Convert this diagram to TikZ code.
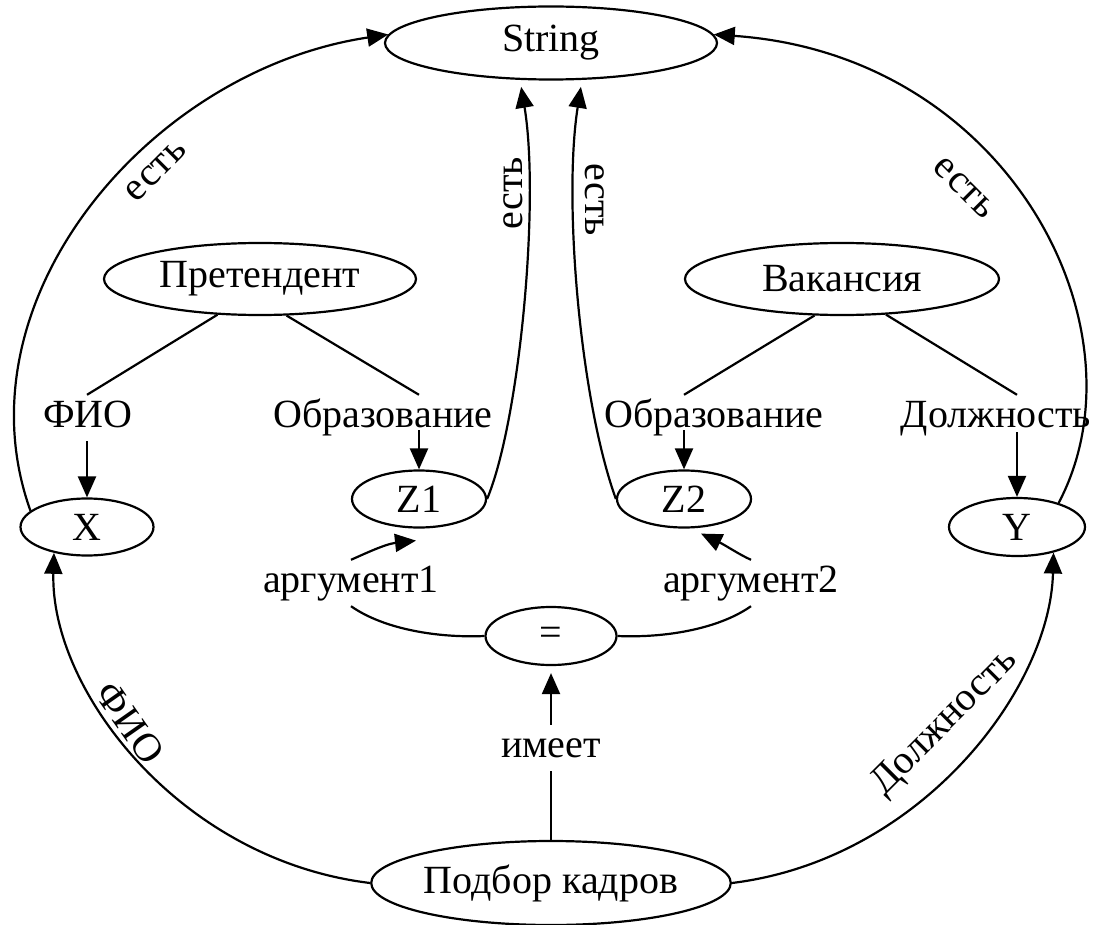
\documentclass[tikz,border=0pt]{standalone}
\usepackage{fontspec}
\setmainfont{Liberation Serif}
\usepackage{tikz}
\usetikzlibrary{arrows.meta,shapes}
\tikzstyle{concept}=[ellipse,draw,line width=2.2pt,inner sep=0pt]
\tikzstyle{role}=[anchor=base,inner sep=5pt,text height=27pt,text depth=9pt]
\tikzstyle{tag}=[inner sep=2pt]
\tikzstyle{plain}=[line width=2.2pt]
\tikzstyle{rel}=[line width=2.2pt,-{Triangle[length=21pt,width=18pt]}]

\begin{document}
\begin{tikzpicture}[x=1pt,y=-1pt,font=\fontsize{40}{48}\selectfont]
        \useasboundingbox (0,0) rectangle (1097,925);

        % concepts
        \node at (551,43)  [concept,minimum width=332pt,minimum height=73pt] (str)  {String};
        \node at (260,279) [concept,minimum width=312pt,minimum height=72pt] (pret) {Претендент};
        \node at (842,279) [concept,minimum width=314pt,minimum height=72pt] (vak)  {Вакансия};
        \node at (87,527)  [concept,minimum width=133pt,minimum height=57pt] (x)    {X};
        \node at (419,499) [concept,minimum width=134pt,minimum height=57pt] (z1)   {Z1};
        \node at (684,499) [concept,minimum width=134pt,minimum height=57pt] (z2)   {Z2};
        \node at (1017,527) [concept,minimum width=136pt,minimum height=58pt] (y)   {Y};
        \node at (551,636) [concept,minimum width=131pt,minimum height=58pt] (eq)   {=};
        \node at (551,883) [concept,minimum width=350pt,minimum height=84pt] (pod)  {Подбор кадров};

        % roles
        \node at (88,427)  [role] (fio)   {ФИО};
        \node at (383,427) [role] (obr1)  {Образование};
        \node at (714,427) [role] (obr2)  {Образование};
        \node at (996,427) [role] (dolzh) {Должность};
        \node at (351,592) [role] (arg1)  {аргумент1};
        \node at (751,592) [role] (arg2)  {аргумент2};
        \node at (551,757) [role] (imeet) {имеет};

        % labels on the arcs
        \node at (156,171) [tag,rotate=45]  (est1)  {есть};
        \node at (513,193) [tag,rotate=90]  (est2)  {есть};
        \node at (595,200) [tag,rotate=-90] (est3)  {есть};
        \node at (964,188) [tag,rotate=-45] (est4)  {есть};
        \node at (130,723) [tag,rotate=-55] (fio2)  {ФИО};
        \node at (945,723) [tag,rotate=45]  (dolzh2) {Должность};

        \draw [plain] (pret.220) -- (fio.north -| x.north);
        \draw [plain] (pret.306) -- (obr1.north -| z1.north);
        \draw [plain] (vak.233) -- (obr2.north -| z2.north);
        \draw [plain] (vak.321) -- (dolzh.north -| y.north);

        \draw [rel] (fio.south -| x.north) -- (x.north);
        \draw [rel] ([yshift=-3pt]obr1.base -| z1.north) -- (z1.north);
        \draw [rel] ([yshift=-3pt]obr2.base -| z2.north) -- (z2.north);
        \draw [rel] ([yshift=-5pt]dolzh.base -| y.north) -- (y.north);

        \draw [rel] (x.164) .. controls (-45,300) and (150,70) .. (str.177);
        \draw [rel] (y.30) .. controls (1150,330) and (1010,55) .. (str.3);
        \draw [rel,shorten >=7pt] (z1.east) .. controls (520,420) and (540,200) .. (str.230);
        \draw [rel,shorten >=7pt] (z2.west) .. controls (580,400) and (563,200) .. (str.310);

        \draw [rel] (pod.west) .. controls (180,860) and (50,690) .. (x.218);
        \draw [rel] (pod.east) .. controls (920,860) and (1050,690) .. (y.325);

        \draw [plain] (eq.west) .. controls (440,638) and (385,630) .. (arg1.south);
        \draw [plain] (eq.east) .. controls (662,638) and (717,630) .. (arg2.south);
        \draw [rel] (arg1.north) .. controls (362,555) and (385,544) .. ([shift={(-3,12)}]z1.south);
        \draw [rel] (arg2.north) .. controls (740,555) and (725,545) .. ([shift={(17,5)}]z2.south);

        \draw [plain] (pod.north) -- (imeet.south);
        \draw [rel,shorten >=7pt] (imeet.north) -- (eq.south);
      \end{tikzpicture}
\end{document}
